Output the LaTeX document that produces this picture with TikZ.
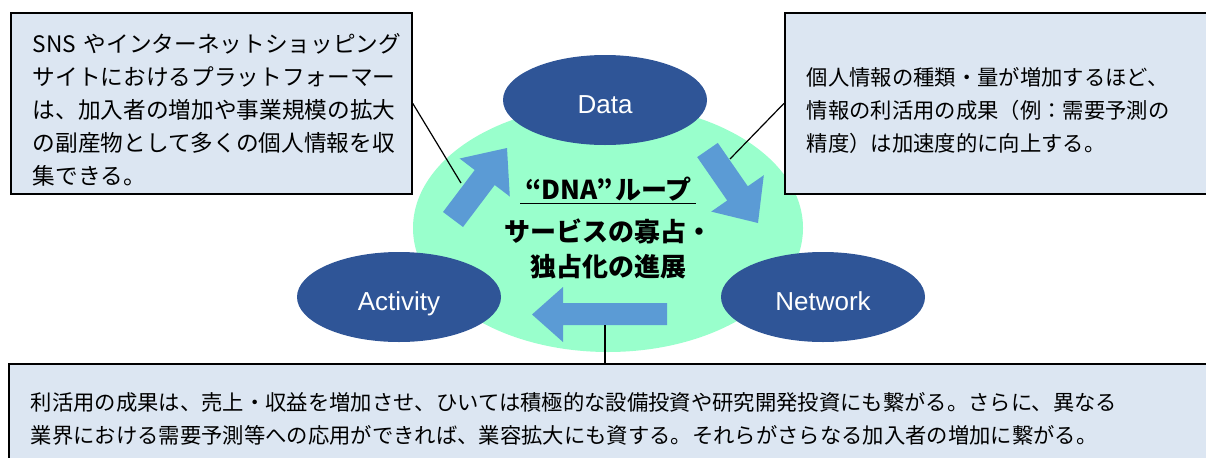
\documentclass[tikz,border=0pt]{standalone}
\usepackage{fontspec}
\setsansfont{Liberation Sans}
\newfontfamily\jfont{Noto Sans CJK JP}
\usetikzlibrary{shapes.geometric}

\definecolor{boxblue}{HTML}{DCE6F2}
\definecolor{loopgreen}{HTML}{99FFCC}
\definecolor{hubblue}{HTML}{2F5597}
\definecolor{flowblue}{HTML}{5B9BD5}

\begin{document}
\begin{tikzpicture}[x=0.75pt, y=-0.75pt,
  note/.style     = {draw=black, line width=1.3pt, fill=boxblue,
                     anchor=north west, align=left,
                     inner xsep=16.5pt, inner ysep=0pt,
                     font=\jfont\fontsize{16}{24.75}\selectfont},
  hub/.style      = {ellipse, fill=hubblue, text=white, inner sep=0pt,
                     minimum width=153pt, minimum height=67.5pt,
                     text height=20.25pt, text depth=0pt,
                     font=\sffamily\fontsize{19.5}{22}\selectfont},
  loopdisc/.style = {ellipse, fill=loopgreen, align=center,
                     minimum width=292.5pt, minimum height=186pt,
                     font=\jfont\bfseries\fontsize{19.5}{26.25}\selectfont},
  flow/.style     = {fill=flowblue},
  lead/.style     = {draw=black, line width=0.9pt},
]
\useasboundingbox (0,0) rectangle (1206,457);

%% -- the loop and its three hubs --------------------------------------
\node[loopdisc] (loop) at (608,228)
  {\underline{\hspace{.2em}“DNA”\hspace{.1em}ループ\,}\\[5pt]サービスの寡占・\\独占化の進展};
\node[hub] (data)     at (605,100) {Data};
\node[hub] (network)  at (823,297) {Network};
\node[hub] (activity) at (399,297) {Activity};

%% -- block arrows round the loop --------------------------------------
\fill[flow] (443,212) -- (474.7,170) -- (459.6,158.5) -- (507,148)
  -- (509.8,196.5) -- (494.7,185) -- (463,227) -- cycle;
\fill[flow] (697.2,157.1) -- (717.8,142.9) -- (747.8,186.3) -- (763.8,175.2)
  -- (758,223) -- (711.2,211.6) -- (727.2,200.5) -- cycle;
\fill[flow] (667,303) -- (563,303) -- (563,287) -- (532,314.5)
  -- (563,342) -- (563,325) -- (667,325) -- cycle;

%% -- callout boxes ----------------------------------------------------
\node[note, text width=267.75pt, minimum width=300.75pt, minimum height=135.75pt,
      font=\jfont\fontsize{17}{24.75}\selectfont] (sns) at (10,12)
  {\rule{0pt}{24pt}\mbox{SNS やインターネットショッピング}\\
   サイトにおけるプラットフォーマー\\
   は、加入者の増加や事業規模の拡大\\
   の副産物として多くの個人情報を収\\
   集できる。};
\node[note, text width=301.5pt, minimum width=334.5pt, minimum height=135.75pt]
  (gain) at (784,12)
  {\rule{0pt}{24pt}個人情報の種類・量が増加するほど、\\
   情報の利活用の成果（例：需要予測の\\
   精度）は加速度的に向上する。};
\node[note, text width=883.5pt, minimum width=916.5pt, minimum height=82.5pt]
  (effect) at (8,363)
  {利活用の成果は、売上・収益を増加させ、ひいては積極的な設備投資や研究開発投資にも繋がる。さらに、異なる\\
   業界における需要予測等への応用ができれば、業容拡大にも資する。それらがさらなる加入者の増加に繋がる。};

%% -- leader lines -----------------------------------------------------
\coordinate (upEdge)   at (461,183);
\coordinate (downEdge) at (730,159);
\coordinate (backEdge) at (605,325);
\draw[lead] (sns.east)  -- (upEdge);
\draw[lead] (gain.west) -- (downEdge);
\draw[lead] (backEdge)  -- (backEdge |- effect.north);

\end{tikzpicture}
\end{document}
